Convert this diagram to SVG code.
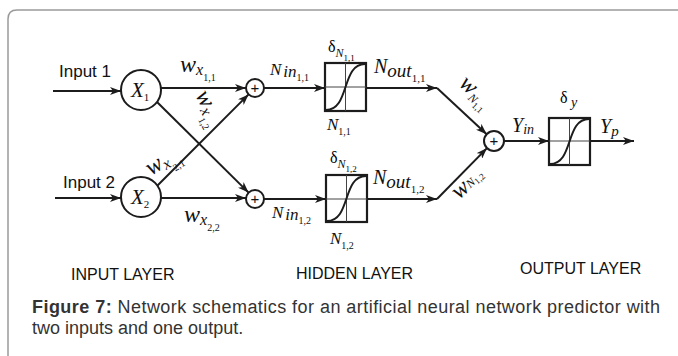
<svg xmlns="http://www.w3.org/2000/svg" width="678" height="356" viewBox="0 0 678 356">
<defs>
<style>
.ln{fill:none;stroke:#1c1c1c;stroke-width:2;marker-end:url(#a)}
.nd{fill:#fff;stroke:#1c1c1c;stroke-width:2}
.bx{fill:#fff;stroke:#1c1c1c;stroke-width:2.2}
.gr{stroke:#444;stroke-width:1}
.sg{fill:none;stroke:#1c1c1c;stroke-width:2}
.m{font-family:"Liberation Serif","Times New Roman",serif;font-style:italic;fill:#111}
.r{font-family:"Liberation Serif","Times New Roman",serif;font-style:normal}
.s{font-family:"Liberation Sans",Arial,sans-serif;fill:#111}
.pls{font-family:"Liberation Sans",Arial,sans-serif;font-size:15px;text-anchor:middle;fill:#111}
.cap{font-family:"Liberation Sans",Arial,sans-serif;font-size:18px;fill:#333}
</style>
<marker id="a" viewBox="0 0 11 8" refX="11" refY="4" markerWidth="11" markerHeight="8" markerUnits="userSpaceOnUse" orient="auto">
<path d="M0,0 L11,4 L0,8 L3,4 z" fill="#1c1c1c"/>
</marker>
</defs>
<rect width="678" height="356" fill="#fff"/>
<path d="M8 356 V19 Q8 10 17 10 H678" fill="none" stroke="#9a9a9a" stroke-width="1.5"/>

<g id="connectors">
<path class="ln" d="M53 91 H121"/>
<path class="ln" d="M55 198 H121"/>
<path class="ln" d="M161 88 H246"/>
<path class="ln" d="M157 102 L248.6 192.6"/>
<path class="ln" d="M157 186 L248.6 94.4"/>
<path class="ln" d="M161 198 H246"/>
<path class="ln" d="M264 88 H325"/>
<path class="ln" d="M264 199 H326"/>
<path class="ln" d="M366 88 H437"/>
<path class="ln" d="M437 88 L486.7 134.2"/>
<path class="ln" d="M367 199 H437"/>
<path class="ln" d="M437 199 L487 148.1"/>
<path class="ln" d="M504 141 H549"/>
<path class="ln" d="M590 141 H634"/>
</g>

<g id="input1"><text class="s" x="59" y="77" font-size="17">Input 1</text></g>
<g id="input2"><text class="s" x="63" y="188" font-size="17">Input 2</text></g>

<g id="x1">
<circle class="nd" cx="141" cy="90" r="20"/>
<text class="m" x="131" y="97" font-size="21">X<tspan class="r" font-size="11" dy="4">1</tspan></text>
</g>
<g id="x2">
<circle class="nd" cx="141" cy="197" r="20"/>
<text class="m" x="131" y="204" font-size="21">X<tspan class="r" font-size="11" dy="4">2</tspan></text>
</g>

<g id="w-labels">
<text class="m" x="180" y="72"><tspan font-size="24">w</tspan><tspan font-size="16" dy="3">x</tspan><tspan class="r" font-size="10" dy="6">1,1</tspan></text>
<text class="m" transform="translate(195,95) rotate(62)"><tspan font-size="24">w</tspan><tspan font-size="16" dy="3">x</tspan><tspan class="r" font-size="10" dy="6">1,2</tspan></text>
<text class="m" transform="translate(151,176) rotate(-32)"><tspan font-size="24">w</tspan><tspan font-size="16" dy="3">x</tspan><tspan class="r" font-size="10" dy="6">2,1</tspan></text>
<text class="m" x="184" y="222"><tspan font-size="24">w</tspan><tspan font-size="16" dy="3">x</tspan><tspan class="r" font-size="10" dy="6">2,2</tspan></text>
</g>

<g id="sum1">
<circle class="nd" cx="255" cy="88" r="9"/>
<text class="pls" x="255" y="93">+</text>
</g>
<g id="sum2">
<circle class="nd" cx="255" cy="199" r="9"/>
<text class="pls" x="255" y="204">+</text>
</g>

<g id="nin-labels">
<text class="m" x="270" y="75"><tspan font-size="17">N</tspan><tspan font-size="17" dx="2" dy="2">in</tspan><tspan class="r" font-size="10" dy="4">1,1</tspan></text>
<text class="m" x="272" y="218"><tspan font-size="17">N</tspan><tspan font-size="17" dx="2" dy="2">in</tspan><tspan class="r" font-size="10" dy="4">1,2</tspan></text>
</g>

<g id="hidden1">
<rect class="bx" x="325" y="63" width="41" height="48"/>
<line class="gr" x1="345.5" y1="63" x2="345.5" y2="111"/>
<line class="gr" x1="325" y1="87" x2="366" y2="87"/>
<path class="sg" d="M326 110 C350 110, 341 64, 365 64"/>
<text x="328" y="52"><tspan class="r" font-size="16">δ</tspan><tspan class="m" font-size="12" dy="5">N</tspan><tspan class="r" font-size="9" dy="4">1,1</tspan></text>
<text class="m" x="327" y="130" font-size="17">N<tspan class="r" font-size="10" dy="5">1,1</tspan></text>
</g>
<g id="hidden2">
<rect class="bx" x="326" y="175" width="41" height="47"/>
<line class="gr" x1="346.5" y1="175" x2="346.5" y2="222"/>
<line class="gr" x1="326" y1="199" x2="367" y2="199"/>
<path class="sg" d="M327 221 C351 221, 342 176, 366 176"/>
<text x="330" y="163"><tspan class="r" font-size="16">δ</tspan><tspan class="m" font-size="12" dy="5">N</tspan><tspan class="r" font-size="9" dy="4">1,2</tspan></text>
<text class="m" x="330" y="244" font-size="17">N<tspan class="r" font-size="10" dy="5">1,2</tspan></text>
</g>

<g id="nout-labels">
<text class="m" x="374" y="73"><tspan font-size="20">N</tspan><tspan font-size="19" dy="4">out</tspan><tspan class="r" font-size="11" dy="5">1,1</tspan></text>
<text class="m" x="373" y="184"><tspan font-size="20">N</tspan><tspan font-size="19" dy="4">out</tspan><tspan class="r" font-size="11" dy="5">1,2</tspan></text>
</g>

<g id="wn-labels">
<text class="m" transform="translate(458,85) rotate(42)"><tspan font-size="24">w</tspan><tspan font-size="12" dy="4">N</tspan><tspan class="r" font-size="9" dy="3">1,1</tspan></text>
<text class="m" transform="translate(459,200) rotate(-42)"><tspan font-size="24">w</tspan><tspan font-size="12" dy="-1">N</tspan><tspan class="r" font-size="9" dy="2">1,2</tspan></text>
</g>

<g id="sum3">
<circle class="nd" cx="494" cy="141" r="10"/>
<text class="pls" x="494" y="146">+</text>
</g>
<g id="yin-label"><text class="m" x="512" y="132"><tspan font-size="20">Y</tspan><tspan font-size="14" dy="2">in</tspan></text></g>

<g id="output">
<rect class="bx" x="549" y="118" width="41" height="47"/>
<line class="gr" x1="569.5" y1="118" x2="569.5" y2="165"/>
<line class="gr" x1="549" y1="141" x2="590" y2="141"/>
<path class="sg" d="M550 164 C574 164, 565 119, 589 119"/>
<text x="560" y="103"><tspan class="r" font-size="16">δ</tspan><tspan class="m" font-size="14" dy="4"> y</tspan></text>
<text class="m" x="600" y="133"><tspan font-size="20">Y</tspan><tspan font-size="15" dy="3">p</tspan></text>
</g>

<g id="layer-labels">
<text class="s" x="71" y="280" font-size="16">INPUT LAYER</text>
<text class="s" x="296" y="279" font-size="16">HIDDEN LAYER</text>
<text class="s" x="520" y="274" font-size="16">OUTPUT LAYER</text>
</g>

<g id="caption">
<text class="cap" x="32" y="313" textLength="628" lengthAdjust="spacing"><tspan font-weight="bold">Figure 7:</tspan> Network schematics for an artificial neural network predictor with</text>
<text class="cap" x="32" y="334">two inputs and one output.</text>
</g>
</svg>
